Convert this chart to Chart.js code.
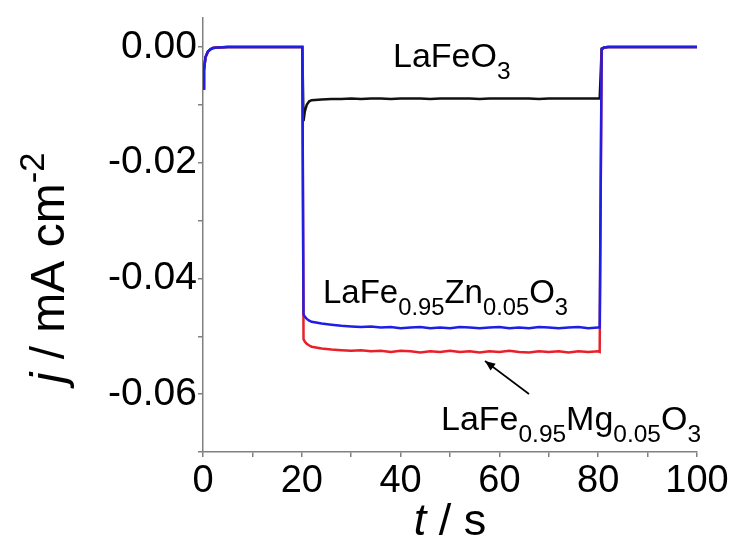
<!DOCTYPE html>
<html>
<head>
<meta charset="utf-8">
<script src="https://cdn.jsdelivr.net/npm/chart.js@4"></script>
<style>
  html, body { margin: 0; padding: 0; background: #fff; }
</style>
</head>
<body>
<canvas id="grafico" width="736" height="547"></canvas>
<script>
// tempo (s)
const tempo = [0, 0.2, 0.5, 1, 1.5, 2, 3, 5, 8, 12, 16,
  20.1, 20.35, 20.6, 21, 21.5,
  22, 24, 26, 28, 30, 32, 34, 36, 38, 40, 42, 44, 46, 48, 50,
  52, 54, 56, 58, 60, 62, 64, 66, 68, 70, 72, 74, 76, 78, 80,
  80.3, 80.7, 81.2, 82, 84, 88, 92, 96, 100];

// j / mA cm-2
const laFeO3 = [-0.0072, -0.0040, -0.0018, -0.0008, -0.0004, -0.0002, -0.0001, 0, 0, 0, 0,
  0, -0.0128, -0.0112, -0.0100, -0.0094,
  -0.0092, -0.0091, -0.0090, -0.0090, -0.0089, -0.0090, -0.0089, -0.0089, -0.0090, -0.0089,
  -0.0089, -0.0089, -0.0090, -0.0089, -0.0089, -0.0089, -0.0089, -0.0090, -0.0089, -0.0089,
  -0.0089, -0.0089, -0.0089, -0.0090, -0.0089, -0.0089, -0.0089, -0.0089, -0.0089, -0.0089,
  -0.0089, -0.0003, -0.0001, 0, 0, 0, 0, 0, 0];

const laFeZn = [-0.0072, -0.0040, -0.0018, -0.0008, -0.0004, -0.0002, -0.0001, 0, 0, 0, 0,
  0, -0.0462, -0.0466, -0.0470, -0.0473,
  -0.0475, -0.0478, -0.0480, -0.0482, -0.0483, -0.0484, -0.0483, -0.0485, -0.0484, -0.0486,
  -0.0485, -0.0484, -0.0486, -0.0485, -0.0486, -0.0484, -0.0485, -0.0486, -0.0485, -0.0484,
  -0.0486, -0.0485, -0.0486, -0.0484, -0.0485, -0.0486, -0.0485, -0.0484, -0.0486, -0.0485,
  -0.0485, -0.0004, -0.0001, 0, 0, 0, 0, 0, 0];

const laFeMg = [-0.0072, -0.0040, -0.0018, -0.0008, -0.0004, -0.0002, -0.0001, 0, 0, 0, 0,
  0, -0.0505, -0.0509, -0.0513, -0.0516,
  -0.0518, -0.0521, -0.0523, -0.0524, -0.0525, -0.0524, -0.0526, -0.0525, -0.0527, -0.0525,
  -0.0526, -0.0528, -0.0526, -0.0527, -0.0525, -0.0527, -0.0526, -0.0528, -0.0526, -0.0527,
  -0.0525, -0.0527, -0.0528, -0.0526, -0.0527, -0.0526, -0.0528, -0.0526, -0.0527, -0.0526,
  -0.0527, -0.0005, -0.0001, 0, 0, 0, 0, 0, 0];

const ticksX = [0, 10, 20, 30, 40, 50, 60, 70, 80, 90, 100];
const rotulosX = ['0', '', '20', '', '40', '', '60', '', '80', '', '100'];
const ticksY = [-0.07, -0.06, -0.05, -0.04, -0.03, -0.02, -0.01, 0];
const rotulosY = ['', '-0.06', '', '-0.04', '', '-0.02', '', '0.00'];

const FONTE = '"Liberation Sans", Arial, sans-serif';
const CINZA = '#808080';

function pontos(valores) {
  return tempo.map((t, i) => ({ x: t, y: valores[i] }));
}

// desenha texto com partes em itálico / subscrito / sobrescrito
function textoRico(ctx, partes, x, y, tam, esc) {
  esc = esc || 0.72;
  let cx = x;
  partes.forEach(([txt, tipo]) => {
    let t = tam, dy = 0, estilo = '';
    if (tipo === 'sub') { t = tam * esc; dy = tam * 0.36; }
    if (tipo === 'sup') { t = tam * esc; dy = -tam * 0.42; }
    if (tipo === 'i') { estilo = 'italic '; }
    ctx.font = estilo + t + 'px ' + FONTE;
    ctx.fillText(txt, cx, y + dy);
    cx += ctx.measureText(txt).width;
  });
  return cx - x;
}

function larguraRica(ctx, partes, tam, esc) {
  esc = esc || 0.72;
  let w = 0;
  partes.forEach(([txt, tipo]) => {
    let t = (tipo === 'sub' || tipo === 'sup') ? tam * esc : tam;
    ctx.font = (tipo === 'i' ? 'italic ' : '') + t + 'px ' + FONTE;
    w += ctx.measureText(txt).width;
  });
  return w;
}

const anotacoes = {
  id: 'anotacoes',
  afterDraw(chart) {
    const ctx = chart.ctx;
    const xs = chart.scales.x;
    ctx.save();
    ctx.fillStyle = '#000';
    ctx.textBaseline = 'alphabetic';
    ctx.textAlign = 'left';

    textoRico(ctx, [['LaFeO', 'n'], ['3', 'sub']], 393, 67, 34);
    textoRico(ctx, [['LaFe', 'n'], ['0.95', 'sub'], ['Zn', 'n'], ['0.05', 'sub'], ['O', 'n'], ['3', 'sub']], 323, 303, 33);
    textoRico(ctx, [['LaFe', 'n'], ['0.95', 'sub'], ['Mg', 'n'], ['0.05', 'sub'], ['O', 'n'], ['3', 'sub']], 441, 430, 34);

    // seta
    const x0 = 529, y0 = 394, x1 = 485, y1 = 361;
    ctx.strokeStyle = '#000';
    ctx.lineWidth = 1.6;
    ctx.beginPath(); ctx.moveTo(x0, y0); ctx.lineTo(x1, y1); ctx.stroke();
    const ang = Math.atan2(y1 - y0, x1 - x0);
    ctx.beginPath();
    ctx.moveTo(x1, y1);
    ctx.lineTo(x1 - 11 * Math.cos(ang - 0.4), y1 - 11 * Math.sin(ang - 0.4));
    ctx.lineTo(x1 - 11 * Math.cos(ang + 0.4), y1 - 11 * Math.sin(ang + 0.4));
    ctx.closePath(); ctx.fill();

    // títulos dos eixos
    const tx = [['t', 'i'], [' / s', 'n']];
    const wx = larguraRica(ctx, tx, 45);
    textoRico(ctx, tx, (xs.left + xs.right) / 2 - wx / 2, 535, 45);

    const ty = [['j', 'i'], [' / mA cm', 'n'], ['-2', 'sup']];
    const wy = larguraRica(ctx, ty, 48);
    ctx.translate(64, 268);
    ctx.rotate(-Math.PI / 2);
    textoRico(ctx, ty, -wy / 2, 0, 48);
    ctx.restore();
  }
};

const eixoBase = {
  border: { display: true, color: CINZA, width: 1.5 },
  grid: { display: true, drawOnChartArea: false, drawTicks: true, tickLength: 5, color: CINZA, lineWidth: 1.5 }
};

new Chart(document.getElementById('grafico').getContext('2d'), {
  type: 'line',
  data: {
    // a primeira série fica por cima
    datasets: [
      { label: 'LaFe0.95Zn0.05O3', data: pontos(laFeZn), borderColor: '#1e1ee6', borderWidth: 2.5 },
      { label: 'LaFe0.95Mg0.05O3', data: pontos(laFeMg), borderColor: '#e8202a', borderWidth: 2.5 },
      { label: 'LaFeO3', data: pontos(laFeO3), borderColor: '#111111', borderWidth: 2.5 }
    ]
  },
  options: {
    responsive: false,
    animation: false,
    layout: { padding: { top: 18, right: 39, left: 0, bottom: 0 } },
    elements: { point: { radius: 0 }, line: { tension: 0 } },
    plugins: { legend: { display: false }, tooltip: { enabled: false } },
    scales: {
      x: {
        ...eixoBase,
        type: 'linear',
        min: 0, max: 100,
        afterBuildTicks: (s) => { s.ticks = ticksX.map(v => ({ value: v })); },
        afterFit: (s) => { s.height = 95; s.paddingLeft = 0; s.paddingRight = 0; },
        ticks: {
          autoSkip: false, maxRotation: 0, padding: 2, color: '#000',
          font: { family: FONTE, size: 38 },
          callback: (v, i) => rotulosX[i]
        }
      },
      y: {
        ...eixoBase,
        min: -0.07, max: 0.005,
        afterBuildTicks: (s) => { s.ticks = ticksY.map(v => ({ value: v })); },
        afterFit: (s) => { s.width = 203; s.paddingTop = 0; s.paddingBottom = 0; },
        ticks: {
          autoSkip: false, padding: 1, color: '#000',
          font: { family: FONTE, size: 39 },
          callback: (v, i) => rotulosY[i]
        }
      }
    }
  },
  plugins: [anotacoes]
});
</script>
</body>
</html>
